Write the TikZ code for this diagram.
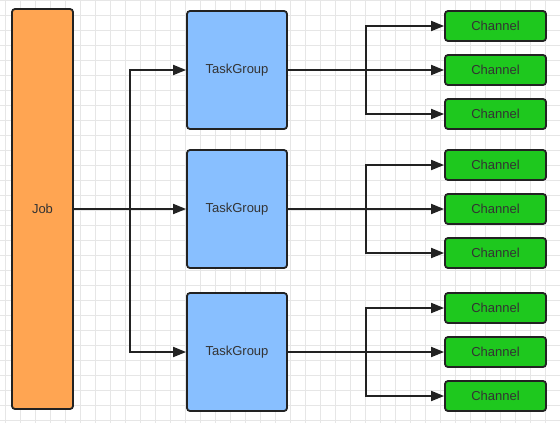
\documentclass[tikz,border=0pt]{standalone}
\usepackage{fontspec}
\setmainfont{Liberation Sans}
\usetikzlibrary{arrows.meta}
\definecolor{jobc}{HTML}{FFA552}
\definecolor{tgc}{HTML}{88BFFF}
\definecolor{chc}{HTML}{1EC81E}
\definecolor{edge}{HTML}{222222}
\definecolor{gridc}{HTML}{E6E6E6}
\begin{document}
\begin{tikzpicture}[x=1pt,y=-1pt,
  boxbase/.style={draw=edge,line width=1.8pt,rounded corners=3pt,text=black!80,font=\fontsize{13}{15}\selectfont,inner sep=0pt},
  jobbox/.style={boxbase,fill=jobc,minimum width=61pt,minimum height=400pt},
  tgbox/.style={boxbase,fill=tgc,minimum width=100pt,minimum height=118pt},
  chbox/.style={boxbase,fill=chc,minimum width=101pt,minimum height=30pt},
  conn/.style={draw=edge,line width=1.8pt},
  arr/.style={conn,-{Triangle[length=13pt,width=10pt]}}]
\useasboundingbox (0,0) rectangle (560,423);
\fill[white] (0,0) rectangle (560,423);
\foreach \x in {5,20,...,560} \draw[gridc,line width=0.8pt] (\x,0) -- (\x,423);
\foreach \y in {0,15,...,423} \draw[gridc,line width=0.8pt] (0,\y) -- (560,\y);
\node[jobbox] (job) at (42.5,209) {Job};
\foreach \i/\c in {1/70,2/209,3/352}{
  \node[tgbox] (tg\i) at (237,\c) {TaskGroup};
  \node[chbox] (ch\i a) at (495.5,\c-44) {Channel};
  \node[chbox] (ch\i b) at (495.5,\c) {Channel};
  \node[chbox] (ch\i c) at (495.5,\c+44) {Channel};
  \coordinate (s\i) at (366,\c);
  \draw[arr] (tg\i.east) -- (ch\i b.west);
  \draw[arr] (s\i) |- (ch\i a.west);
  \draw[arr] (s\i) |- (ch\i c.west);
}
\coordinate (js) at (130,209);
\draw[arr] (job.east) -- (tg2.west);
\draw[arr] (js) |- (tg1.west);
\draw[arr] (js) |- (tg3.west);
\end{tikzpicture}
\end{document}
